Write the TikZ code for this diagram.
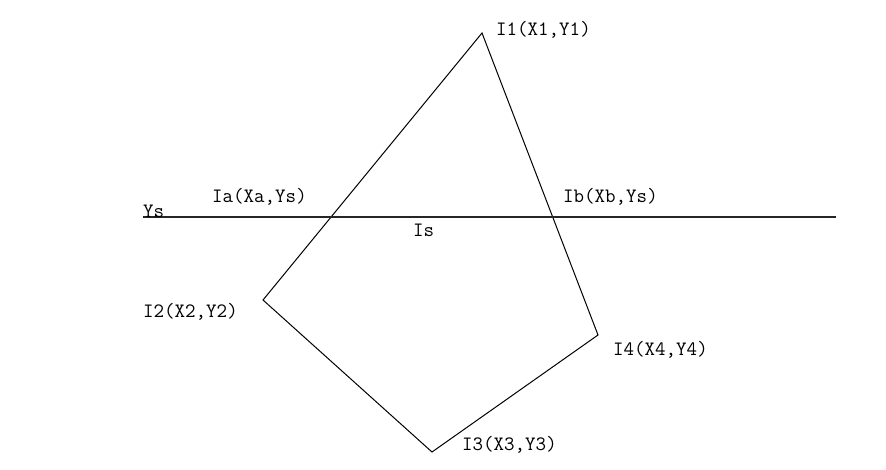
\documentclass[tikz,border=0pt]{standalone}
\usetikzlibrary{positioning}

\begin{document}
\begin{tikzpicture}[x=1pt, y=-1pt, font=\ttfamily\fontsize{20.4}{22}\selectfont,
    lbl/.style={anchor=west, inner sep=0pt}]
    \useasboundingbox (0,0) rectangle (886,469);
    % polygon corners
    \coordinate (p1) at (482,33);
    \coordinate (p2) at (263,300);
    \coordinate (p3) at (432,452);
    \coordinate (p4) at (598,335);
    \draw[line width=1pt] (p1) -- (p2) -- (p3) -- (p4) -- cycle;
    % scan line
    \coordinate (sl) at (143,217);
    \coordinate (sr) at (836,217);
    \draw[line width=1.8pt, black!85] (sl) -- (sr);
    \node[lbl] (l1) at (496,30) {I1(X1,Y1)};
    \node[lbl] (l2) at (143,312) {I2(X2,Y2)};
    \node[lbl] (l3) at (462,445) {I3(X3,Y3)};
    \node[lbl] (l4) at (613,350) {I4(X4,Y4)};
    \node[lbl] (la) at (212,197) {Ia(Xa,Ys)};
    \node[lbl] (lb) at (563,197) {Ib(Xb,Ys)};
    \node[lbl] (ys) at (143,211) {Ys};
    \node[lbl] (is) at (413,230) {Is};
  \end{tikzpicture}
\end{document}
